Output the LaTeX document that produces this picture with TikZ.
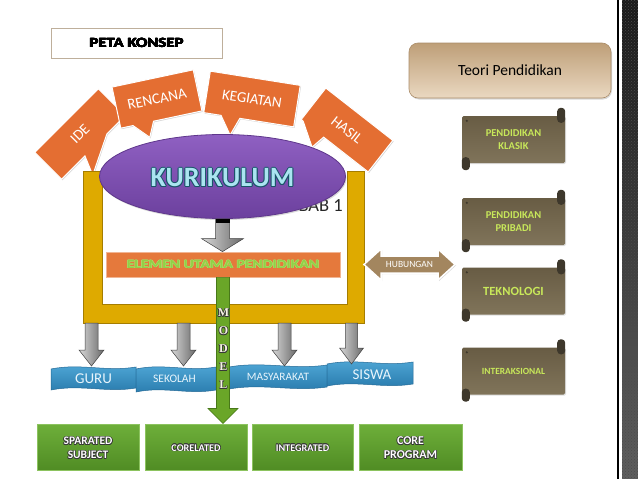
\documentclass[tikz,border=0pt]{standalone}
\usepackage{fontspec}
\setmainfont{Carlito}
\newfontfamily\modelfont{Liberation Serif}
\usetikzlibrary{calc,shadows,patterns,shapes.geometric}

\definecolor{calloutor}{RGB}{228,110,50}
\definecolor{elemor}{RGB}{229,121,60}
\definecolor{framegold}{RGB}{222,170,0}
\definecolor{frameedge}{RGB}{165,125,0}
\definecolor{purtop}{RGB}{143,96,194}
\definecolor{purbot}{RGB}{108,64,158}
\definecolor{puredge}{RGB}{95,55,140}
\definecolor{kurfill}{RGB}{170,228,240}
\definecolor{kuredge}{RGB}{25,85,105}
\definecolor{elemtext}{RGB}{146,208,70}
\definecolor{elemglow}{RGB}{175,222,110}
\definecolor{hubfill}{RGB}{163,134,95}
\definecolor{modelgreen}{RGB}{106,166,40}
\definecolor{modeledge}{RGB}{72,120,25}
\definecolor{modeltext}{RGB}{245,245,225}
\definecolor{gtop}{RGB}{110,175,58}
\definecolor{gbot}{RGB}{80,140,36}
\definecolor{gedge}{RGB}{140,195,95}
\definecolor{bantop}{RGB}{80,168,215}
\definecolor{banbot}{RGB}{40,122,172}
\definecolor{banedge}{RGB}{35,105,150}
\definecolor{bantextcol}{RGB}{232,245,252}
\definecolor{teoritop}{RGB}{190,159,120}
\definecolor{teoribot}{RGB}{234,216,193}
\definecolor{teoriedge}{RGB}{170,140,105}
\definecolor{scrolltop}{RGB}{104,92,68}
\definecolor{scrollbot}{RGB}{128,116,90}
\definecolor{scrolldark}{RGB}{62,56,44}
\definecolor{scrolltext}{RGB}{200,232,90}
\definecolor{titleedge}{RGB}{190,175,155}
\definecolor{graylight}{RGB}{215,215,215}
\definecolor{graydark}{RGB}{105,105,105}
\definecolor{stripdark}{RGB}{25,25,25}
\definecolor{striplight}{RGB}{95,95,95}
\definecolor{textdark}{RGB}{55,55,55}

% outlined text: name, position, options, text, fill colour, outline colour, offset
\newcommand\otext[7]{%
  \foreach \oa in {0,45,...,315}{\node[#3,text=#6] at ($(#2)+(\oa:#7)$) {#4};}%
  \node[#3,text=#5] (#1) at (#2) {#4};}

% callout: centre, angle, width, height, base left, base right, tip, name, text
\newcommand\callout[9]{%
  \begin{scope}[shift={(#1)}, rotate=#2]
    \path[callshape] (-#3/2,-#4/2) -- (#3/2,-#4/2) -- (#3/2,#4/2) -- (#6,#4/2)
      -- (#7) -- (#5,#4/2) -- (-#3/2,#4/2) -- cycle;
  \end{scope}
  \node[calltext, rotate=#2] (#8) at (#1) {#9};}

% vertical block arrow: style, start, end (tip), shaft half width, head half width, head length
\newcommand\vblockarrow[6]{%
  \path[#1] let \p1=(#2), \p2=(#3) in
    (\x1-#4,\y1) -- (\x1+#4,\y1) -- (\x1+#4,\y2+#6) -- (\x1+#5,\y2+#6) -- (\x1,\y2)
    -- (\x1-#5,\y2+#6) -- (\x1-#4,\y2+#6) -- cycle;}

% wavy banner: x0, x1, ytop, ybottom
\newcommand\banner[4]{%
  \path[bannershape] (#1,#3+2) .. controls ({#1+(#2-#1)*0.35},#3-4) and ({#1+(#2-#1)*0.65},#3+5) .. (#2,#3)
    -- (#2,#4) .. controls ({#2-(#2-#1)*0.35},#4+5) and ({#2-(#2-#1)*0.65},#4-4) .. (#1,#4+2) -- cycle;}

% scroll box: name, position, font size, text
\newcommand\scrollbox[4]{%
  \node[scrollshape] (#1) at (#2) {};
  \fill[scrolldark, rounded corners=3.5pt] ([xshift=-8pt,yshift=-7pt]#1.north east) rectangle ([yshift=8pt]#1.north east);
  \fill[scrolldark, rounded corners=3.5pt] ([yshift=6pt]#1.south west) rectangle ([xshift=8pt,yshift=-7pt]#1.south west);
  \fill[scrolldark] ([xshift=5pt,yshift=-5pt]#1.north west) circle (1.2pt);
  \node[scrolltextstyle, font=\bfseries\fontsize{#3}{13}\selectfont] (#1t) at (#2) {#4};}

\begin{document}
\begin{tikzpicture}[x=1pt,y=-1pt,
  callshape/.style={fill=calloutor, draw=white, line width=1pt,
    drop shadow={shadow xshift=0.8pt,shadow yshift=-1pt,opacity=0.35}},
  calltext/.style={text=white, font=\fontsize{15}{17}\selectfont, inner sep=0pt},
  framestyle/.style={fill=framegold, draw=frameedge, line width=0.6pt},
  grayarrow/.style={left color=graylight, right color=graydark, draw=black!75, line width=0.5pt},
  modelarrow/.style={fill=modelgreen, draw=modeledge, line width=0.6pt},
  elembox/.style={fill=elemor, draw=elemor!55!white, line width=0.8pt, minimum width=234pt,
    minimum height=25pt, drop shadow={shadow xshift=1pt,shadow yshift=-1pt,opacity=0.3}},
  hubshape/.style={fill=hubfill, draw=white, line width=1.5pt,
    drop shadow={shadow xshift=1pt,shadow yshift=-1pt,opacity=0.3}},
  bannershape/.style={top color=bantop, bottom color=banbot, draw=banedge, line width=0.5pt},
  bantext/.style={text=bantextcol, inner sep=0pt},
  gbox/.style={top color=gtop, bottom color=gbot, draw=gedge, line width=1pt, minimum height=46pt,
    drop shadow={shadow xshift=1pt,shadow yshift=-1pt,opacity=0.3}},
  gtext/.style={align=center, inner sep=0pt},
  teoribox/.style={rounded corners=9pt, top color=teoritop, bottom color=teoribot, draw=teoriedge,
    line width=0.6pt, minimum width=202pt, minimum height=55pt, font=\fontsize{15.5}{18}\selectfont,
    drop shadow={shadow xshift=1pt,shadow yshift=-1.5pt,opacity=0.3}},
  scrollshape/.style={top color=scrolltop, bottom color=scrollbot, minimum width=103pt, minimum height=47pt,
    rounded corners=1.5pt, drop shadow={shadow xshift=1pt,shadow yshift=-1pt,opacity=0.25}},
  scrolltextstyle/.style={text=scrolltext, align=center, inner sep=0pt},
]
\useasboundingbox (0,0) rectangle (638,479);
\fill[white] (0,0) rectangle (638,479);

% right decorative strip
\draw[black, line width=2pt] (618,0) -- (618,479);
\shade[top color=stripdark, bottom color=striplight] (622,0) rectangle (638,479);
\fill[pattern=crosshatch dots, pattern color=black!70] (622,0) rectangle (638,479);

% title
\node[draw=titleedge, line width=1pt, minimum width=171pt, minimum height=30pt] (title) at (136.5,43) {};
\otext{titlet}{136.5,43}{font=\bfseries\fontsize{14}{16}\selectfont, xscale=1.2, inner sep=0pt}{PETA KONSEP}{black}{black}{0.35pt}

% callouts
\callout{80,134}{45}{90}{38}{-12}{19}{-20,38}{ide}{IDE}
\callout{157,99}{12}{83}{42}{-29}{-8}{-15,36}{renc}{RENCANA}
\callout{252,99}{-9}{91}{42}{-28}{-9}{-16,39}{keg}{KEGIATAN}
\callout{347,130}{-38}{85}{40}{-40}{-14}{-17,35}{hasil}{HASIL}

% frame
\path[framestyle] (83,171) -- (83,323) -- (364,323) -- (364,171) -- (347,171) -- (347,304)
  -- (102,304) -- (102,171) -- cycle;
\coordinate (fb1) at (91.5,323);
\coordinate (fb2) at (183.5,323);
\coordinate (fb3) at (284.5,323);
\coordinate (fb4) at (351.5,323);
\coordinate (bt1) at (91.5,366);
\coordinate (bt2) at (183.5,366);
\coordinate (bt3) at (284.5,366);
\coordinate (bt4) at (351.5,364);

% BAB 1 (partly hidden)
\node[font=\fontsize{18.5}{20}\selectfont, anchor=east, inner sep=0pt, text=black!85] (bab) at (343,206) {BAB 1};

% kurikulum ellipse
\node[ellipse, minimum width=246pt, minimum height=84pt, top color=purtop, bottom color=purbot,
  draw=puredge, line width=0.8pt, drop shadow={shadow xshift=1pt,shadow yshift=-1.5pt,opacity=0.3}] (kur) at (222.5,176.5) {};
\otext{kurt}{222.5,178}{font=\bfseries\fontsize{28}{30}\selectfont, inner sep=0pt}{KURIKULUM}{kurfill}{kuredge}{1pt}

% elemen utama
\node[elembox] (elem) at (223,264.5) {};
\otext{elemt}{223,264.5}{font=\bfseries\fontsize{12.5}{14}\selectfont, xscale=1.25, inner sep=0pt}{ELEMEN UTAMA PENDIDIKAN}{elemtext}{elemglow}{0.45pt}

% arrow kurikulum -> elemen
\vblockarrow{grayarrow}{kur.south}{elem.north}{7pt}{21pt}{13pt}
\fill[black] ($(kur.south)+(-7,0)$) rectangle ($(kur.south)+(7,4)$);

% hubungan
\path[hubshape] (364,264.5) -- (381,249) -- (381,256) -- (438,256) -- (438,249) -- (455,264.5)
  -- (438,280) -- (438,273) -- (381,273) -- (381,280) -- cycle;
\node[text=white, font=\fontsize{9.5}{11}\selectfont, inner sep=0pt] (hub) at (409.5,264.5) {HUBUNGAN};

% banners
\banner{51}{136}{367}{388}
\banner{136}{216}{367}{390}
\banner{229}{327}{365}{387}
\banner{327}{413}{362}{384}
\node[bantext, font=\fontsize{15}{17}\selectfont] (guru) at (93.5,379) {GURU};
\node[bantext, font=\fontsize{11.5}{13}\selectfont] (sekolah) at (174.5,379) {SEKOLAH};
\node[bantext, font=\fontsize{11.3}{13}\selectfont] (masy) at (278,377) {MASYARAKAT};
\node[bantext, font=\fontsize{15}{17}\selectfont] (siswa) at (372,375) {SISWA};

% gray arrows from frame to banners
\vblockarrow{grayarrow}{fb1}{bt1}{6.5pt}{12.5pt}{16pt}
\vblockarrow{grayarrow}{fb2}{bt2}{6.5pt}{12.5pt}{16pt}
\vblockarrow{grayarrow}{fb3}{bt3}{6.5pt}{12.5pt}{16pt}
\vblockarrow{grayarrow}{fb4}{bt4}{6pt}{12pt}{16pt}

% green model boxes
\node[gbox, minimum width=102pt] (g1) at (88,447) {};
\node[gbox, minimum width=102pt] (g2) at (196,447) {};
\node[gbox, minimum width=101pt] (g3) at (302.5,447) {};
\node[gbox, minimum width=103pt] (g4) at (410.5,447) {};
\otext{g1t}{88,448}{gtext, font=\bfseries\fontsize{11.5}{14}\selectfont}{SPARATED\\SUBJECT}{white}{textdark}{0.6pt}
\otext{g2t}{196,448}{gtext, font=\bfseries\fontsize{10.2}{12}\selectfont}{CORELATED}{white}{textdark}{0.6pt}
\otext{g3t}{302.5,448}{gtext, font=\bfseries\fontsize{10.2}{12}\selectfont}{INTEGRATED}{white}{textdark}{0.6pt}
\otext{g4t}{410.5,448}{gtext, font=\bfseries\fontsize{12}{14}\selectfont}{CORE\\PROGRAM}{white}{textdark}{0.6pt}

% MODEL arrow
\vblockarrow{modelarrow}{elem.south}{elem.south |- g2.north}{6.5pt}{15pt}{15pt}
\foreach \ch/\yy in {M/313,O/331,D/349,E/367,L/385}{%
  \otext{model\ch}{223.5,\yy}{font=\modelfont\bfseries\fontsize{12}{14}\selectfont, inner sep=0pt}{\ch}{modeltext}{textdark}{0.7pt}}

% right side
\node[teoribox] (teori) at (510,70.5) {Teori Pendidikan};
\scrollbox{klasik}{513.5,139.5}{10.5}{PENDIDIKAN\\KLASIK}
\scrollbox{pribadi}{513.5,221.5}{10.5}{PENDIDIKAN\\PRIBADI}
\scrollbox{tekno}{513.5,291}{12.5}{TEKNOLOGI}
\scrollbox{inter}{513.5,371}{9.4}{INTERAKSIONAL}
\end{tikzpicture}
\end{document}
